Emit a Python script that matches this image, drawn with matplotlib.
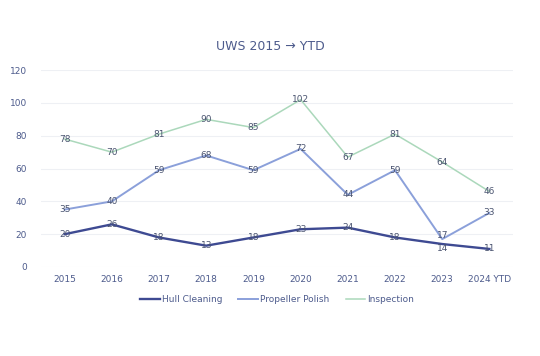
import numpy as np
import matplotlib.pyplot as plt

years = ["2015", "2016", "2017", "2018", "2019", "2020", "2021", "2022", "2023", "2024 YTD"]
hull = [20, 26, 18, 13, 18, 23, 24, 18, 14, 11]
propeller = [35, 40, 59, 68, 59, 72, 44, 59, 17, 33]
inspection = [78, 70, 81, 90, 85, 102, 67, 81, 64, 46]

txt = "#4d5b8c"
fig = plt.figure(figsize=(5.4, 3.56), dpi=100)
ax = fig.add_axes([0.076, 0.25, 0.874, 0.553])
x = np.arange(len(years))

series = [("Hull Cleaning", hull, "#3e4a92", 1.7),
          ("Propeller Polish", propeller, "#8ba0da", 1.4),
          ("Inspection", inspection, "#abd8bb", 1.1)]
for name, vals, col, lw in series:
    ax.plot(x, vals, color=col, lw=lw, label=name)

# labels; the 2023 pair sits very close, nudge them apart a little
for name, vals, col, lw in series:
    for xi, v in zip(x, vals):
        dy = 0
        if xi == 8 and name == "Propeller Polish":
            dy = 2.5
        if xi == 8 and name == "Hull Cleaning":
            dy = -2.5
        ax.text(xi, v + dy, str(v), ha="center", va="center", fontsize=6.5, color="#4a5470")

ax.set_xlim(-0.5, len(years) - 0.5)
ax.set_ylim(0, 120)
ax.set_yticks(range(0, 121, 20))
ax.set_xticks(x)
ax.set_xticklabels(years)
ax.grid(axis="y", color="#eef0f4", lw=0.8)
ax.set_axisbelow(True)
for s in ax.spines.values():
    s.set_visible(False)
ax.tick_params(length=0, labelsize=6.5, colors=txt, pad=6)
ax.tick_params(axis="y", pad=10)

fig.text(0.5, 0.868, "UWS 2015 \u2192 YTD", ha="center", va="center", fontsize=9, color=txt)
ax.legend(loc="upper center", bbox_to_anchor=(0.5, -0.1), ncol=3, frameon=False,
          fontsize=6.5, labelcolor=txt, handlelength=2.2, handletextpad=0.2, columnspacing=1.8)

fig.savefig("out.png", dpi=100)
